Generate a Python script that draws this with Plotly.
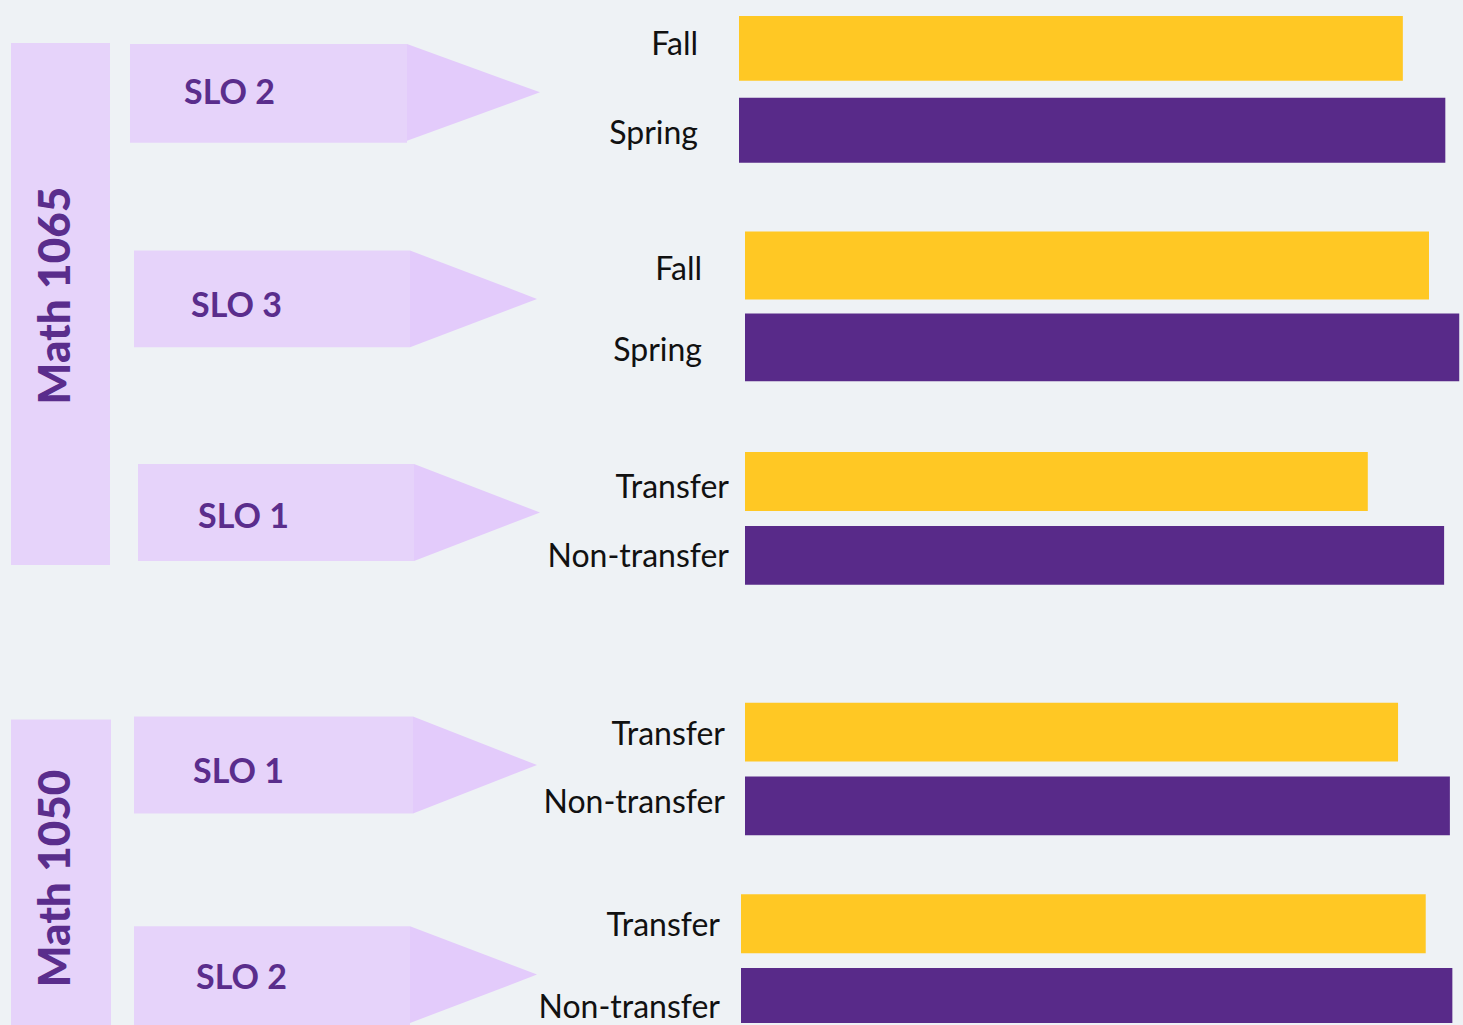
import plotly.graph_objects as go

# ---------------- data ----------------
course_labels = ["Math 1065", "Math 1050"]
slo_labels = ["SLO 2", "SLO 3", "SLO 1", "SLO 1", "SLO 2"]
row_labels = [
    ["Fall", "Spring"],
    ["Fall", "Spring"],
    ["Transfer", "Non-transfer"],
    ["Transfer", "Non-transfer"],
    ["Transfer", "Non-transfer"],
]
first_values = [92.2, 95.0, 86.5, 90.7, 95.1]    # yellow bars
second_values = [98.1, 99.2, 97.1, 97.9, 98.8]   # purple bars

# ---------------- styles / layout geometry (pixels) ----------------
W, H = 1463, 1025
PX_PER_UNIT = 7.2
BG = "#EEF2F5"
YELLOW = "#FFC824"
PURPLE = "#582A89"
LAV = "#E6D3FA"
LAV_TIP = "#E3CBFB"
TXT_PURPLE = "#5A2D8C"
FONT = "Lato"

bar_left = [739, 745, 745, 745, 741]
bar_top = [16, 232, 453, 704, 896]
bar_thick = [65, 68, 59, 59, 59]
bar_gap = [17, 14, 15, 15, 15]
label_gap = [40, 42, 15, 19, 20]
label_shift = [(-4.5, 3), (3, 2), (5, 0), (1.5, -4.5), (1, 9.5)]

course_boxes = [(11, 43, 110, 566), (11, 721, 111, 1030)]
course_text_pos = [(53, 296), (53, 880)]
arrow_boxes = [  # x0, y0, x1, y1, tip_x
    (130, 44, 407, 143, 540),
    (134, 251, 410, 348, 537),
    (138, 465, 414, 562, 540),
    (134, 718, 413, 815, 537),
    (134, 928, 410, 1030, 537),
]
slo_text_pos = [(182, 91), (189, 304), (196, 516), (191, 771), (194, 977)]


def px(x):
    return x / W


def py(y):
    return 1 - y / H


fig = go.Figure()
layout_axes = {}
for i in range(5):
    n = "" if i == 0 else str(i + 1)
    pitch = bar_thick[i] + bar_gap[i]
    top = bar_top[i] - bar_gap[i] / 2
    bottom = top + 2 * pitch
    bottom_c = min(bottom, H)
    r_bottom = -0.5 + (bottom_c - top) / pitch
    fig.add_trace(go.Bar(
        y=row_labels[i],
        x=[first_values[i], second_values[i]],
        orientation="h",
        marker=dict(color=[YELLOW, PURPLE], line=dict(width=0)),
        width=bar_thick[i] / pitch,
        xaxis="x" + n, yaxis="y" + n,
        hoverinfo="skip", showlegend=False,
    ))
    layout_axes["xaxis" + n] = dict(
        domain=[px(bar_left[i]), 1],
        range=[0, (W - bar_left[i]) / PX_PER_UNIT],
        visible=False, fixedrange=True,
        anchor="y" + n,
    )
    s0, s1 = label_shift[i]
    layout_axes["yaxis" + n] = dict(
        domain=[py(bottom_c), py(top)],
        type="category",
        categoryorder="array", categoryarray=row_labels[i],
        range=[r_bottom, -0.5],
        tickmode="array",
        tickvals=[0 + s0 / pitch, 1 + s1 / pitch],
        ticktext=row_labels[i],
        showgrid=False, zeroline=False, showline=False, ticks="",
        ticklabelstandoff=label_gap[i],
        tickfont=dict(family=FONT, size=32, color="#111111"),
        anchor="x" + n, fixedrange=True,
    )

shapes = []
for (x0, y0, x1, y1) in course_boxes:
    shapes.append(dict(type="rect", xref="paper", yref="paper",
                       x0=px(x0), x1=px(x1), y0=py(y1), y1=py(y0),
                       fillcolor=LAV, line=dict(width=0), layer="below"))
for (x0, y0, x1, y1, tip) in arrow_boxes:
    shapes.append(dict(type="rect", xref="paper", yref="paper",
                       x0=px(x0), x1=px(x1), y0=py(y1), y1=py(y0),
                       fillcolor=LAV, line=dict(width=0), layer="below"))
    ymid = y0 + 48.5
    shapes.append(dict(type="path", xref="paper", yref="paper",
                       path=f"M {px(x1)},{py(y0)} L {px(tip)},{py(ymid)} L {px(x1)},{py(y0 + 97)} Z",
                       fillcolor=LAV_TIP, line=dict(width=0), layer="below"))

annotations = []
for lab, (x, y) in zip(course_labels, course_text_pos):
    annotations.append(dict(text=lab, x=px(x), y=py(y), xref="paper", yref="paper",
                            textangle=-90, showarrow=False, xanchor="center", yanchor="middle",
                            font=dict(family=FONT, size=44, color=TXT_PURPLE, weight=900)))
for lab, (x, y) in zip(slo_labels, slo_text_pos):
    annotations.append(dict(text=f"<b>{lab}</b>", x=px(x), y=py(y), xref="paper", yref="paper",
                            showarrow=False, xanchor="left", yanchor="middle",
                            font=dict(family=FONT, size=34, color=TXT_PURPLE)))

fig.update_layout(
    width=W, height=H,
    margin=dict(l=0, r=0, t=0, b=0),
    paper_bgcolor=BG, plot_bgcolor="rgba(0,0,0,0)",
    shapes=shapes, annotations=annotations,
    barmode="overlay",
    **layout_axes,
)

fig.write_html("out.html", config={"displayModeBar": False})
